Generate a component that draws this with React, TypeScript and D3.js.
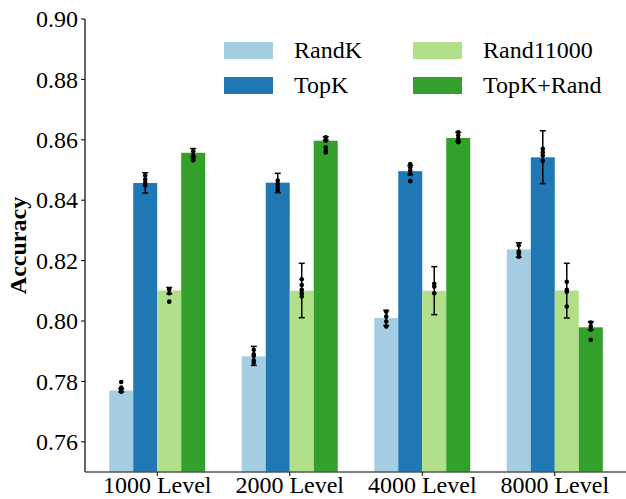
import * as d3 from "d3";

const groups = ["1000 Level", "2000 Level", "4000 Level", "8000 Level"];
const seriesNames = ["RandK", "TopK", "Rand11000", "TopK+Rand"];
const colors = ["#a6cee3", "#1f78b4", "#b2df8a", "#33a02c"];
const yTicks = [0.76, 0.78, 0.8, 0.82, 0.84, 0.86, 0.88, 0.9];

// mean per series, one entry per group
const means = [
  [0.777, 0.7883, 0.801, 0.8237],
  [0.8457, 0.8458, 0.8496, 0.8542],
  [0.8101, 0.81, 0.81, 0.8101],
  [0.8557, 0.8597, 0.8606, 0.7979],
];
// error bar [low, high] per series per group
const errs = [
  [[0.7765, 0.7776], [0.7853, 0.7916], [0.7985, 0.8035], [0.8211, 0.8259]],
  [[0.8424, 0.8491], [0.8425, 0.8489], [0.8485, 0.8515], [0.8455, 0.863]],
  [[0.809, 0.8111], [0.8011, 0.8191], [0.8021, 0.818], [0.801, 0.8191]],
  [[0.8543, 0.8571], [0.8599, 0.861], [0.8595, 0.8625], [0.7971, 0.7998]],
];
// individual runs
const runs = [
  [[0.7798, 0.778, 0.7772, 0.7766], [0.7905, 0.789, 0.7885, 0.787, 0.7862], [0.8031, 0.8015, 0.7998, 0.7982], [0.8251, 0.8231, 0.8224, 0.8213]],
  [[0.8482, 0.8468, 0.8457, 0.8449], [0.8465, 0.8454, 0.8443, 0.8432], [0.852, 0.8509, 0.8498, 0.8487, 0.8463], [0.857, 0.8559, 0.8548, 0.8531]],
  [[0.8105, 0.8092, 0.8064], [0.8138, 0.8119, 0.8103, 0.8092, 0.8081], [0.8123, 0.8114, 0.8092], [0.813, 0.8103, 0.8097, 0.8048]],
  [[0.8562, 0.8548, 0.8537, 0.8532], [0.8608, 0.8597, 0.8575, 0.8564, 0.8558], [0.8625, 0.8614, 0.8603, 0.8592], [0.7995, 0.7982, 0.7971, 0.7938]],
];

const W = 626;
const H = 499;
const left = 85;
const right = 627;
const top = 19;
const bottom = 472;
const font = "Liberation Serif";

export default function App() {
  const x = d3.scalePoint<string>().domain(groups).range([left, right]).padding(0.545);
  const sub = d3.scaleBand<string>().domain(seriesNames).range([-48, 48]);
  const y = d3.scaleLinear().domain([0.75, 0.9]).range([bottom, top]);
  const bw = sub.bandwidth();

  return (
    <svg
      width={W}
      height={H}
      style={{ position: "absolute", left: 0, top: 0, background: "#fff" }}
    >
      {seriesNames.map((s, si) =>
        groups.map((g, gi) => {
          const x0 = (x(g) ?? 0) + (sub(s) ?? 0);
          const cx = x0 + bw / 2;
          const [lo, hi] = errs[si][gi];
          return (
            <g key={s + g}>
              <rect
                x={x0}
                y={y(means[si][gi])}
                width={bw}
                height={bottom - y(means[si][gi])}
                fill={colors[si]}
              />
              <line x1={cx} x2={cx} y1={y(lo)} y2={y(hi)} stroke="#000" strokeWidth={1.5} />
              <line x1={cx - 3} x2={cx + 3} y1={y(lo)} y2={y(lo)} stroke="#000" strokeWidth={1.5} />
              <line x1={cx - 3} x2={cx + 3} y1={y(hi)} y2={y(hi)} stroke="#000" strokeWidth={1.5} />
              {runs[si][gi].map((v, k) => (
                <circle key={k} cx={cx} cy={y(v)} r={2.3} fill="#000" />
              ))}
            </g>
          );
        })
      )}

      {/* axes */}
      <line x1={left} x2={left} y1={top} y2={bottom} stroke="#000" strokeWidth={1.2} />
      <line x1={left} x2={W} y1={bottom} y2={bottom} stroke="#555" strokeWidth={1.5} />
      {yTicks.map((t) => (
        <g key={t}>
          <line x1={left - 4} x2={left} y1={y(t)} y2={y(t)} stroke="#000" strokeWidth={1} />
          <text x={left - 7} y={y(t)} dy="0.34em" fontSize={24} textAnchor="end" fontFamily={font}>
            {t.toFixed(2)}
          </text>
        </g>
      ))}
      {groups.map((g) => (
        <g key={g}>
          <line x1={x(g)} x2={x(g)} y1={bottom} y2={bottom + 4} stroke="#000" strokeWidth={1} />
          <text x={x(g)} y={493} fontSize={24} textAnchor="middle" fontFamily={font}>
            {g}
          </text>
        </g>
      ))}
      <text
        transform={`translate(26,${(top + bottom) / 2}) rotate(-90)`}
        fontSize={24}
        fontWeight="bold"
        textAnchor="middle"
        fontFamily={font}
      >
        Accuracy
      </text>

      {/* legend: RandK/TopK left column, Rand11000/TopK+Rand right column */}
      {seriesNames.map((s, i) => {
        const c = i < 2 ? 0 : 1;
        const r = i % 2;
        const lx = c === 0 ? 224 : 413;
        const ly = 42 + r * 35;
        return (
          <g key={s}>
            <rect x={lx} y={ly} width={49} height={17} fill={colors[i]} />
            <text x={lx + 70} y={ly + 16} fontSize={24} fontFamily={font}>
              {s}
            </text>
          </g>
        );
      })}
    </svg>
  );
}
